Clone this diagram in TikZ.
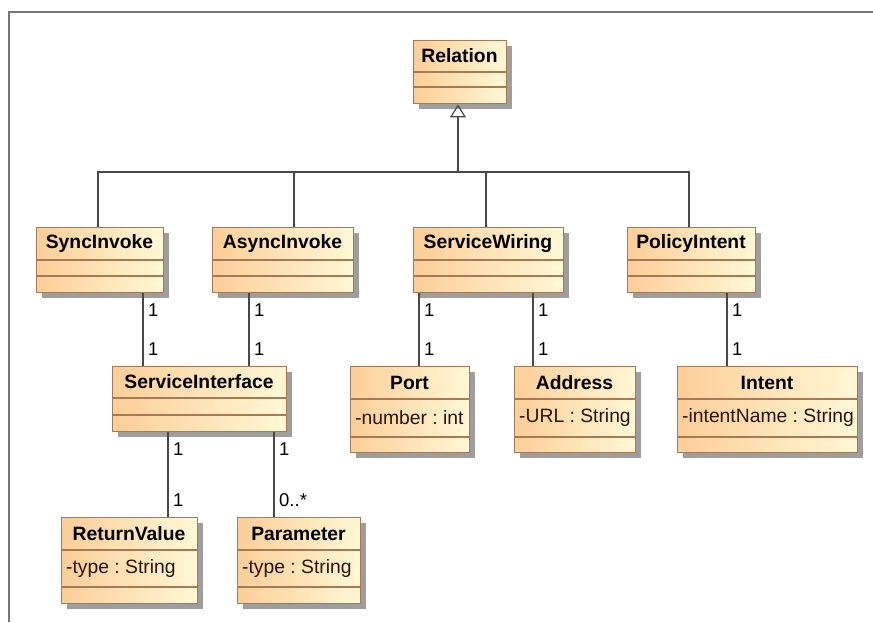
\documentclass[tikz,border=0pt]{standalone}
\usepackage{fontspec}
\setmainfont{Liberation Sans}
\usetikzlibrary{shadows,arrows.meta}

\definecolor{boxleft}{RGB}{252,206,152}
\definecolor{boxright}{RGB}{255,248,214}
\definecolor{boxedge}{RGB}{165,122,85}
\definecolor{attrink}{RGB}{45,18,8}
\definecolor{wire}{RGB}{72,72,72}
\definecolor{framegray}{RGB}{118,118,118}

\tikzset{
  classbox/.style={draw=boxedge, line width=1.4pt, left color=boxleft, right color=boxright,
    inner sep=0pt, drop shadow={shadow xshift=5pt, shadow yshift=-5pt, fill=black!38, opacity=1}},
  divider/.style={draw=boxedge, line width=1.2pt},
  titletext/.style={inner sep=0pt, font=\bfseries\fontsize{19.3}{22}\selectfont},
  attrtext/.style={inner sep=0pt, text=attrink, font=\frenchspacing\fontsize{19.3}{22}\selectfont},
  wireline/.style={draw=wire, line width=1.4pt},
  mult/.style={inner sep=0pt, anchor=west, font=\fontsize{18.5}{20}\selectfont},
  inherit/.style={wireline, -{Triangle[open, length=13pt, width=16pt, line width=1.2pt]}},
}

% class box: name, x1, y1, x2, divider 1, divider 2, y2, title, attribute
\newcommand\umlclass[9]{%
  \node[classbox, minimum width={#4-#2}, minimum height={#7-#3}, anchor=north west] (#1) at (#2,#3) {};
  \draw[divider] (#1.west |- 0,#5) -- (#1.east |- 0,#5);
  \draw[divider] (#1.west |- 0,#6) -- (#1.east |- 0,#6);
  \node[titletext] (#1-title) at ({(#2+#4)/2},{(#3+#5)/2}) {#8};
  \node[attrtext, anchor=west] (#1-attr) at ([xshift=5pt]#1.west |- 0,{(#5+#6)/2}) {#9};
}

% association with its two multiplicities, at a given x
\newcommand\assoc[5]{%
  \draw[wireline] (#3,0 |- #1.south) -- (#3,0 |- #2.north);
  \node[mult] at ([xshift=5pt,yshift=-17pt]#3,0 |- #1.south) {#4};
  \node[mult] at ([xshift=5pt,yshift=17pt]#3,0 |- #2.north) {#5};
}

\begin{document}
\begin{tikzpicture}[x=1pt,y=-1pt]
  \useasboundingbox (0,0) rectangle (873,622);

  % diagram frame
  \draw[framegray, line width=2pt] (9,622) -- (9,12) -- (874,12);

  % classes
  \umlclass{relation}{413}{40}{506}{72}{87}{103}{Relation}{}
  \umlclass{sync}{36}{227}{163}{260}{276}{292}{SyncInvoke}{}
  \umlclass{async}{212}{227}{353}{260}{276}{292}{AsyncInvoke}{}
  \umlclass{wiring}{413}{227}{563}{260}{276}{292}{ServiceWiring}{}
  \umlclass{policy}{627}{227}{755}{260}{276}{292}{PolicyIntent}{}
  \umlclass{iface}{112}{366}{286}{398}{415}{431}{ServiceInterface}{}
  \umlclass{port}{350}{366}{469}{399}{437}{452}{Port}{-number : int}
  \umlclass{address}{514}{366}{635}{399}{437}{452}{Address}{-URL : String}
  \umlclass{intent}{677}{366}{857}{399}{437}{452}{Intent}{-intentName : String}
  \umlclass{retval}{61}{517}{197}{550}{587}{603}{ReturnValue}{-type : String}
  \umlclass{param}{237}{517}{360}{550}{587}{603}{Parameter}{-type : String}

  % generalization tree
  \coordinate (bar) at (458,172);
  \draw[wireline] (98,0 |- sync.north) -- (98,172) -- (689,172) -- (689,0 |- policy.north);
  \draw[wireline] (294,172) -- (294,0 |- async.north);
  \draw[wireline] (486,172) -- (486,0 |- wiring.north);
  \draw[inherit] (bar) -- (458,0 |- relation.south);

  % associations
  \assoc{sync}{iface}{143}{1}{1}
  \assoc{async}{iface}{249}{1}{1}
  \assoc{wiring}{port}{419}{1}{1}
  \assoc{wiring}{address}{533}{1}{1}
  \assoc{policy}{intent}{727}{1}{1}
  \assoc{iface}{retval}{168}{1}{1}
  \assoc{iface}{param}{274}{1}{0..*}
\end{tikzpicture}
\end{document}
